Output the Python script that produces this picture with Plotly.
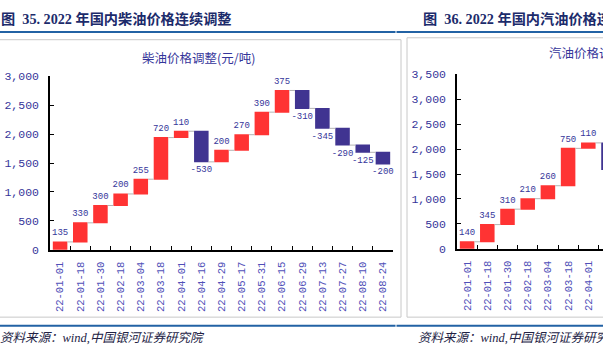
import plotly.graph_objects as go

W, H = 603, 354

def px(x):
    return x / W

def py(y):
    return 1 - y / H

# ---------------- data ----------------
dates = ["22-01-01", "22-01-18", "22-01-30", "22-02-18", "22-03-04", "22-03-18",
         "22-04-01", "22-04-16", "22-04-29", "22-05-17", "22-05-31", "22-06-15",
         "22-06-29", "22-07-13", "22-07-27", "22-08-10", "22-08-24"]
diesel_adj = [135, 330, 300, 200, 255, 720, 110, -530, 200, 270, 390, 375,
              -310, -345, -290, -125, -200]

gas_dates = ["22-01-01", "22-01-18", "22-01-30", "22-02-18", "22-03-04", "22-03-18",
             "22-04-01", "22-04-16"]
gasoline_adj = [140, 345, 310, 210, 260, 750, 110, -535]

left_title = "图  35. 2022 年国内柴油价格连续调整"
right_title = "图  36. 2022 年国内汽油价格连续调整"
left_inner = "柴油价格调整(元/吨)"
right_inner = "汽油价格调整(元/吨)"
source = "资料来源：wind,中国银河证券研究院"

RED = "#FF3333"
BLUE = "#403491"
TXT = "#35359a"
XTXT = "#5050b8"
NAVY = "#1c2b6b"

fig = go.Figure()

def wf(x, y, xa, ya):
    return go.Waterfall(
        x=x, y=y, measure=["relative"] * len(y),
        text=[str(v) for v in y], textposition="outside", constraintext="none",
        textfont=dict(family="Liberation Mono", size=9, color=TXT),
        increasing=dict(marker=dict(color=RED, line=dict(width=0))),
        decreasing=dict(marker=dict(color=BLUE, line=dict(width=0))),
        connector=dict(line=dict(color="#b4b4b4", width=1)),
        width=0.72, cliponaxis=False, showlegend=False,
        xaxis=xa, yaxis=ya, hoverinfo="skip",
    )

fig.add_trace(wf(dates, diesel_adj, "x", "y"))
fig.add_trace(wf(gas_dates, gasoline_adj, "x2", "y2"))

xcommon = dict(type="category", showline=True, linecolor="black", linewidth=1.5,
               ticks="inside", ticklen=4, tickcolor="black", tickson="boundaries",
               tickangle=-90, showgrid=False, zeroline=False,
               tickfont=dict(family="Liberation Mono", size=10.5, color=XTXT),
               ticklabelstandoff=6, fixedrange=True)
ycommon = dict(showline=True, linecolor="black", linewidth=1.5, ticks="inside",
               ticklen=4, tickcolor="black", showgrid=False, zeroline=False,
               dtick=500, tickformat=",", separatethousands=True,
               tickfont=dict(family="Liberation Mono", size=11.5, color=TXT),
               ticklabelstandoff=7, fixedrange=True)

fig.update_layout(
    width=W, height=H, margin=dict(l=0, r=0, t=0, b=0),
    paper_bgcolor="white", plot_bgcolor="rgba(0,0,0,0)",
    xaxis=dict(xcommon, domain=[px(50), px(393)], anchor="y", range=[-0.5, 16.5]),
    yaxis=dict(ycommon, domain=[py(253), py(73)], anchor="x", range=[0, 3000]),
    xaxis2=dict(xcommon, domain=[px(457), 1.0], anchor="y2",
                range=[-0.5, -0.5 + (603 - 457) / 20.2]),
    yaxis2=dict(ycommon, domain=[py(252), py(71)], anchor="x2", range=[0, 3500]),
)

shapes = []
# chart boxes
shapes.append(dict(type="rect", xref="paper", yref="paper", x0=px(-5), x1=px(401),
                   y0=py(323), y1=py(35), line=dict(color="#c8c8c8", width=1)))
shapes.append(dict(type="rect", xref="paper", yref="paper", x0=px(407), x1=px(615),
                   y0=py(323), y1=py(33), line=dict(color="#c8c8c8", width=1)))
# blue rules
for y in (27, 332):
    shapes.append(dict(type="line", xref="paper", yref="paper", x0=0, x1=px(395.5),
                       y0=py(y), y1=py(y), line=dict(color="#2262a4", width=2)))
    shapes.append(dict(type="line", xref="paper", yref="paper", x0=px(396.5), x1=1,
                       y0=py(y), y1=py(y), line=dict(color="#2262a4", width=2)))
fig.update_layout(shapes=shapes)

ann = []
tfont = dict(family="Liberation Serif, Noto Sans CJK SC", size=14.2, color=NAVY)
ann.append(dict(text="<b>" + left_title + "</b>", x=px(-1), y=py(13), xref="paper",
                yref="paper", xanchor="left", yanchor="middle", showarrow=False, font=tfont))
ann.append(dict(text="<b>" + right_title + "</b>", x=px(421), y=py(13), xref="paper",
                yref="paper", xanchor="left", yanchor="middle", showarrow=False, font=tfont))
ifont = dict(family="Noto Sans CJK SC", size=12.5, color=TXT)
ann.append(dict(text=left_inner, x=px(140), y=py(53), xref="paper", yref="paper",
                xanchor="left", yanchor="middle", showarrow=False, font=ifont))
ann.append(dict(text=right_inner, x=px(547), y=py(48), xref="paper", yref="paper",
                xanchor="left", yanchor="middle", showarrow=False, font=ifont))
sfont = dict(family="Liberation Serif, Noto Sans CJK SC", size=12.5, color="#222244")
ann.append(dict(text="<i>" + source + "</i>", x=px(-2), y=py(345), xref="paper",
                yref="paper", xanchor="left", yanchor="middle", showarrow=False, font=sfont))
ann.append(dict(text="<i>" + source + "</i>", x=px(416), y=py(345), xref="paper",
                yref="paper", xanchor="left", yanchor="middle", showarrow=False, font=sfont))
fig.update_layout(annotations=ann)

fig.write_html("out.html")
